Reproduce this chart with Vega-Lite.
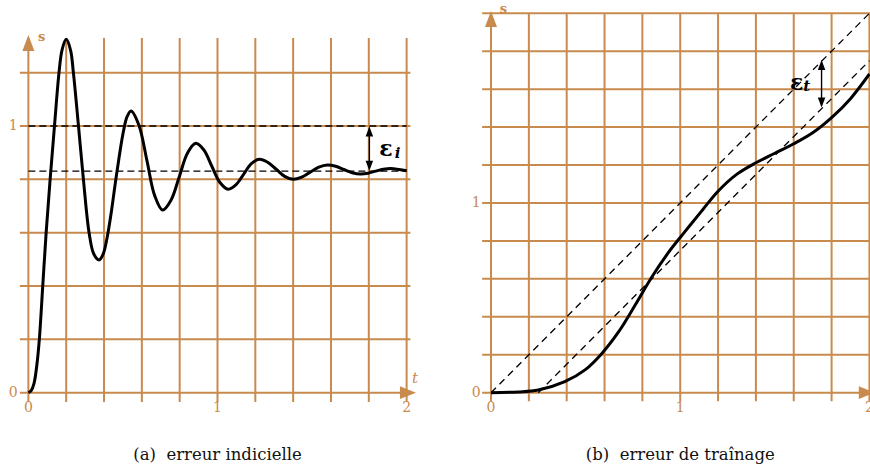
{
  "$schema": "https://vega.github.io/schema/vega-lite/v6.json",
  "background": "white",
  "padding": 0,
  "spacing": 0,
  "bounds": "flush",
  "config": {"view": {"stroke": null}, "text": {"font": "DejaVu Serif"}},
  "datasets": {
    "gV": [{"t":0},{"t":0.2},{"t":0.4},{"t":0.6},{"t":0.8},{"t":1},{"t":1.2},{"t":1.4},{"t":1.6},{"t":1.8},{"t":2}],
    "gAh": [{"s":0},{"s":0.2},{"s":0.4},{"s":0.6},{"s":0.8},{"s":1},{"s":1.2}],
    "gBh": [{"s":0},{"s":0.2},{"s":0.4},{"s":0.6},{"s":0.8},{"s":1},{"s":1.2},{"s":1.4},{"s":1.6},{"s":1.8},{"s":2}],
    "arrA": [{"t":0,"s":1.311,"dir":"up"},{"t":2.007,"s":0,"dir":"right"}],
    "arrB": [{"t":0,"s":1.97,"dir":"up"},{"t":1.986,"s":0,"dir":"right"}],
    "headA": [{"t":1.803,"s":0.979,"dir":"up"},{"t":1.803,"s":0.851,"dir":"down"}],
    "headB": [{"t":1.747,"s":1.727,"dir":"up"},{"t":1.747,"s":1.53,"dir":"down"}],
    "epsLineA": [{"t":1.803,"s":0.99},{"t":1.803,"s":0.84}],
    "epsLineB": [{"t":1.747,"s":1.74},{"t":1.747,"s":1.515}],
    "dashA": [{"t":0,"s":1,"g":"a"},{"t":2,"s":1,"g":"a"},{"t":0,"s":0.831,"g":"b"},{"t":2,"s":0.831,"g":"b"}],
    "dashB": [{"t":0,"s":0,"g":"a"},{"t":2,"s":2,"g":"a"},{"t":0.25,"s":0,"g":"b"},{"t":2,"s":1.75,"g":"b"}],
    "curveA": [
      {"t":0,"s":0},{"t":0.015,"s":0.008},{"t":0.03,"s":0.035},{"t":0.045,"s":0.105},{"t":0.058,"s":0.2},
      {"t":0.076,"s":0.4},{"t":0.094,"s":0.6},{"t":0.115,"s":0.8},{"t":0.138,"s":1.0},{"t":0.162,"s":1.2},
      {"t":0.178,"s":1.285},{"t":0.2,"s":1.325},{"t":0.223,"s":1.285},{"t":0.238,"s":1.2},{"t":0.265,"s":1.0},
      {"t":0.291,"s":0.8},{"t":0.321,"s":0.6},{"t":0.346,"s":0.52},{"t":0.374,"s":0.498},{"t":0.395,"s":0.519},
      {"t":0.416,"s":0.58},{"t":0.437,"s":0.67},{"t":0.458,"s":0.777},{"t":0.48,"s":0.884},{"t":0.501,"s":0.974},
      {"t":0.522,"s":1.035},{"t":0.543,"s":1.056},
      {"t":0.585,"s":1.002},{"t":0.627,"s":0.87},{"t":0.668,"s":0.739},{"t":0.71,"s":0.685},{"t":0.754,"s":0.722},
      {"t":0.798,"s":0.81},{"t":0.841,"s":0.898},{"t":0.885,"s":0.935},{"t":0.928,"s":0.91},{"t":0.97,"s":0.849},
      {"t":1.013,"s":0.788},{"t":1.056,"s":0.763},{"t":1.097,"s":0.779},{"t":1.138,"s":0.819},{"t":1.179,"s":0.859},
      {"t":1.22,"s":0.875},{"t":1.265,"s":0.864},{"t":1.31,"s":0.838},{"t":1.355,"s":0.811},{"t":1.4,"s":0.8},
      {"t":1.445,"s":0.808},{"t":1.49,"s":0.827},{"t":1.536,"s":0.846},{"t":1.581,"s":0.854},{"t":1.625,"s":0.849},
      {"t":1.668,"s":0.837},{"t":1.712,"s":0.825},{"t":1.756,"s":0.82},{"t":1.796,"s":0.823},{"t":1.837,"s":0.831},
      {"t":1.877,"s":0.838},{"t":1.917,"s":0.841},{"t":1.96,"s":0.837},{"t":2.0,"s":0.832}
    ],
    "curveB": [
      {"t":0,"s":0},{"t":0.145,"s":0.004},{"t":0.25,"s":0.014},{"t":0.39,"s":0.058},{"t":0.497,"s":0.12},
      {"t":0.586,"s":0.207},{"t":0.674,"s":0.32},{"t":0.762,"s":0.462},{"t":0.85,"s":0.61},{"t":0.94,"s":0.742},
      {"t":1.0,"s":0.818},{"t":1.05,"s":0.88},{"t":1.12,"s":0.966},{"t":1.2,"s":1.062},{"t":1.3,"s":1.152},
      {"t":1.4,"s":1.212},{"t":1.5,"s":1.262},{"t":1.6,"s":1.312},{"t":1.7,"s":1.37},{"t":1.8,"s":1.45},
      {"t":1.9,"s":1.55},{"t":2.0,"s":1.68}
    ],
    "ylabA": [{"t":-0.056,"s":0,"label":"0"},{"t":-0.056,"s":1,"label":"1"}],
    "xlabA": [{"t":0,"s":-0.058,"label":"0"},{"t":1,"s":-0.058,"label":"1"},{"t":2,"s":-0.058,"label":"2"}],
    "ylabB": [{"t":-0.055,"s":0,"label":"0"},{"t":-0.055,"s":1,"label":"1"}],
    "xlabB": [{"t":0,"s":-0.081,"label":"0"},{"t":1,"s":-0.081,"label":"1"},{"t":2,"s":-0.081,"label":"2"}],
    "sA": [{"t":0.07,"s":1.335,"label":"s"}],
    "tA": [{"t":2.044,"s":0.054,"label":"t"}],
    "sB": [{"t":0.065,"s":2.021,"label":"s"}],
    "epsA": [{"t":1.89,"s":0.914,"label":"ε"}],
    "subA": [{"t":1.952,"s":0.899,"label":"i"}],
    "epsB": [{"t":1.615,"s":1.635,"label":"ε"}],
    "subB": [{"t":1.668,"s":1.617,"label":"t"}],
    "capA": [{"t":1.0,"s":-0.2523,"label":"(a)\u00a0\u00a0erreur indicielle"}],
    "capB": [{"t":1.0,"s":-0.3548,"label":"(b)\u00a0\u00a0erreur de traînage"}]
  },
  "hconcat": [
    {
      "width": 435,
      "height": 464,
      "layer": [
        {"data": {"name": "gV"}, "mark": {"type": "rule", "color": "#c98a4e", "strokeWidth": 2},
         "encoding": {"x": {"field": "t", "type": "quantitative", "scale": {"domain": [-0.15, 2.15]}, "axis": null},
                      "y": {"datum": -0.035, "type": "quantitative", "scale": {"domain": [-0.2673, 1.4725]}, "axis": null},
                      "y2": {"datum": 1.33}}},
        {"data": {"name": "gAh"}, "mark": {"type": "rule", "color": "#c98a4e", "strokeWidth": 2},
         "encoding": {"y": {"field": "s", "type": "quantitative", "scale": {"domain": [-0.2673, 1.4725]}, "axis": null},
                      "x": {"datum": -0.045, "type": "quantitative", "scale": {"domain": [-0.15, 2.15]}, "axis": null},
                      "x2": {"datum": 2.02}}},
        {"data": {"name": "arrA"}, "mark": {"type": "point", "filled": true, "color": "#c98a4e", "opacity": 1, "size": 256, "strokeWidth": 0},
         "encoding": {"x": {"field": "t", "type": "quantitative", "scale": {"domain": [-0.15, 2.15]}, "axis": null},
                      "y": {"field": "s", "type": "quantitative", "scale": {"domain": [-0.2673, 1.4725]}, "axis": null},
                      "shape": {"field": "dir", "type": "nominal", "legend": null,
                                "scale": {"domain": ["up", "right", "down"], "range": ["M0,-1L0.75,1L-0.75,1Z", "M1,0L-1,0.8L-1,-0.8Z", "M0,1L0.75,-1L-0.75,-1Z"]}}}},
        {"data": {"name": "dashA"}, "mark": {"type": "line", "color": "black", "strokeWidth": 1.3, "strokeDash": [7, 4]},
         "encoding": {"x": {"field": "t", "type": "quantitative", "scale": {"domain": [-0.15, 2.15]}, "axis": null},
                      "y": {"field": "s", "type": "quantitative", "scale": {"domain": [-0.2673, 1.4725]}, "axis": null},
                      "detail": {"field": "g"}}},
        {"data": {"name": "curveA"}, "mark": {"type": "line", "color": "black", "strokeWidth": 3, "interpolate": "catmull-rom"},
         "encoding": {"x": {"field": "t", "type": "quantitative", "scale": {"domain": [-0.15, 2.15]}, "axis": null},
                      "y": {"field": "s", "type": "quantitative", "scale": {"domain": [-0.2673, 1.4725]}, "axis": null}}},
        {"data": {"name": "epsLineA"}, "mark": {"type": "line", "color": "black", "strokeWidth": 1.4},
         "encoding": {"x": {"field": "t", "type": "quantitative", "scale": {"domain": [-0.15, 2.15]}, "axis": null},
                      "y": {"field": "s", "type": "quantitative", "scale": {"domain": [-0.2673, 1.4725]}, "axis": null}}},
        {"data": {"name": "headA"}, "mark": {"type": "point", "filled": true, "color": "black", "opacity": 1, "size": 100, "strokeWidth": 0},
         "encoding": {"x": {"field": "t", "type": "quantitative", "scale": {"domain": [-0.15, 2.15]}, "axis": null},
                      "y": {"field": "s", "type": "quantitative", "scale": {"domain": [-0.2673, 1.4725]}, "axis": null},
                      "shape": {"field": "dir", "type": "nominal", "legend": null,
                                "scale": {"domain": ["up", "right", "down"], "range": ["M0,-1L0.75,1L-0.75,1Z", "M1,0L-1,0.8L-1,-0.8Z", "M0,1L0.75,-1L-0.75,-1Z"]}}}},
        {"data": {"name": "ylabA"}, "mark": {"type": "text", "color": "#c98a4e", "fontSize": 14, "align": "right", "baseline": "middle"},
         "encoding": {"x": {"field": "t", "type": "quantitative", "scale": {"domain": [-0.15, 2.15]}, "axis": null},
                      "y": {"field": "s", "type": "quantitative", "scale": {"domain": [-0.2673, 1.4725]}, "axis": null},
                      "text": {"field": "label"}}},
        {"data": {"name": "xlabA"}, "mark": {"type": "text", "color": "#c98a4e", "fontSize": 14, "align": "center", "baseline": "middle"},
         "encoding": {"x": {"field": "t", "type": "quantitative", "scale": {"domain": [-0.15, 2.15]}, "axis": null},
                      "y": {"field": "s", "type": "quantitative", "scale": {"domain": [-0.2673, 1.4725]}, "axis": null},
                      "text": {"field": "label"}}},
        {"data": {"name": "sA"}, "mark": {"type": "text", "color": "#c98a4e", "fontSize": 13, "fontWeight": "bold", "align": "center", "baseline": "middle"},
         "encoding": {"x": {"field": "t", "type": "quantitative", "scale": {"domain": [-0.15, 2.15]}, "axis": null},
                      "y": {"field": "s", "type": "quantitative", "scale": {"domain": [-0.2673, 1.4725]}, "axis": null},
                      "text": {"field": "label"}}},
        {"data": {"name": "tA"}, "mark": {"type": "text", "color": "#c98a4e", "fontSize": 15, "fontStyle": "italic", "align": "center", "baseline": "middle"},
         "encoding": {"x": {"field": "t", "type": "quantitative", "scale": {"domain": [-0.15, 2.15]}, "axis": null},
                      "y": {"field": "s", "type": "quantitative", "scale": {"domain": [-0.2673, 1.4725]}, "axis": null},
                      "text": {"field": "label"}}},
        {"data": {"name": "epsA"}, "mark": {"type": "text", "color": "black", "fontSize": 22, "fontWeight": "bold", "align": "center", "baseline": "middle"},
         "encoding": {"x": {"field": "t", "type": "quantitative", "scale": {"domain": [-0.15, 2.15]}, "axis": null},
                      "y": {"field": "s", "type": "quantitative", "scale": {"domain": [-0.2673, 1.4725]}, "axis": null},
                      "text": {"field": "label"}}},
        {"data": {"name": "subA"}, "mark": {"type": "text", "color": "black", "fontSize": 15, "fontStyle": "italic", "fontWeight": "bold", "align": "center", "baseline": "middle"},
         "encoding": {"x": {"field": "t", "type": "quantitative", "scale": {"domain": [-0.15, 2.15]}, "axis": null},
                      "y": {"field": "s", "type": "quantitative", "scale": {"domain": [-0.2673, 1.4725]}, "axis": null},
                      "text": {"field": "label"}}},
        {"data": {"name": "capA"}, "mark": {"type": "text", "color": "#111111", "fontSize": 16.5, "align": "center", "baseline": "alphabetic"},
         "encoding": {"x": {"field": "t", "type": "quantitative", "scale": {"domain": [-0.15, 2.15]}, "axis": null},
                      "y": {"field": "s", "type": "quantitative", "scale": {"domain": [-0.2673, 1.4725]}, "axis": null},
                      "text": {"field": "label"}}}
      ]
    },
    {
      "width": 435,
      "height": 464,
      "layer": [
        {"data": {"name": "gV"}, "mark": {"type": "rule", "color": "#c98a4e", "strokeWidth": 2},
         "encoding": {"x": {"field": "t", "type": "quantitative", "scale": {"domain": [-0.296, 2.003]}, "axis": null},
                      "y": {"datum": -0.045, "type": "quantitative", "scale": {"domain": [-0.376, 2.07]}, "axis": null},
                      "y2": {"datum": 2.0}}},
        {"data": {"name": "gBh"}, "mark": {"type": "rule", "color": "#c98a4e", "strokeWidth": 2},
         "encoding": {"y": {"field": "s", "type": "quantitative", "scale": {"domain": [-0.376, 2.07]}, "axis": null},
                      "x": {"datum": -0.047, "type": "quantitative", "scale": {"domain": [-0.296, 2.003]}, "axis": null},
                      "x2": {"datum": 2.01}}},
        {"data": {"name": "arrB"}, "mark": {"type": "point", "filled": true, "color": "#c98a4e", "opacity": 1, "size": 256, "strokeWidth": 0},
         "encoding": {"x": {"field": "t", "type": "quantitative", "scale": {"domain": [-0.296, 2.003]}, "axis": null},
                      "y": {"field": "s", "type": "quantitative", "scale": {"domain": [-0.376, 2.07]}, "axis": null},
                      "shape": {"field": "dir", "type": "nominal", "legend": null,
                                "scale": {"domain": ["up", "right", "down"], "range": ["M0,-1L0.75,1L-0.75,1Z", "M1,0L-1,0.8L-1,-0.8Z", "M0,1L0.75,-1L-0.75,-1Z"]}}}},
        {"data": {"name": "dashB"}, "mark": {"type": "line", "color": "black", "strokeWidth": 1.3, "strokeDash": [7, 5]},
         "encoding": {"x": {"field": "t", "type": "quantitative", "scale": {"domain": [-0.296, 2.003]}, "axis": null},
                      "y": {"field": "s", "type": "quantitative", "scale": {"domain": [-0.376, 2.07]}, "axis": null},
                      "detail": {"field": "g"}}},
        {"data": {"name": "curveB"}, "mark": {"type": "line", "color": "black", "strokeWidth": 3, "interpolate": "catmull-rom"},
         "encoding": {"x": {"field": "t", "type": "quantitative", "scale": {"domain": [-0.296, 2.003]}, "axis": null},
                      "y": {"field": "s", "type": "quantitative", "scale": {"domain": [-0.376, 2.07]}, "axis": null}}},
        {"data": {"name": "epsLineB"}, "mark": {"type": "line", "color": "black", "strokeWidth": 1.4},
         "encoding": {"x": {"field": "t", "type": "quantitative", "scale": {"domain": [-0.296, 2.003]}, "axis": null},
                      "y": {"field": "s", "type": "quantitative", "scale": {"domain": [-0.376, 2.07]}, "axis": null}}},
        {"data": {"name": "headB"}, "mark": {"type": "point", "filled": true, "color": "black", "opacity": 1, "size": 100, "strokeWidth": 0},
         "encoding": {"x": {"field": "t", "type": "quantitative", "scale": {"domain": [-0.296, 2.003]}, "axis": null},
                      "y": {"field": "s", "type": "quantitative", "scale": {"domain": [-0.376, 2.07]}, "axis": null},
                      "shape": {"field": "dir", "type": "nominal", "legend": null,
                                "scale": {"domain": ["up", "right", "down"], "range": ["M0,-1L0.75,1L-0.75,1Z", "M1,0L-1,0.8L-1,-0.8Z", "M0,1L0.75,-1L-0.75,-1Z"]}}}},
        {"data": {"name": "ylabB"}, "mark": {"type": "text", "color": "#c98a4e", "fontSize": 14, "align": "right", "baseline": "middle"},
         "encoding": {"x": {"field": "t", "type": "quantitative", "scale": {"domain": [-0.296, 2.003]}, "axis": null},
                      "y": {"field": "s", "type": "quantitative", "scale": {"domain": [-0.376, 2.07]}, "axis": null},
                      "text": {"field": "label"}}},
        {"data": {"name": "xlabB"}, "mark": {"type": "text", "color": "#c98a4e", "fontSize": 14, "align": "center", "baseline": "middle"},
         "encoding": {"x": {"field": "t", "type": "quantitative", "scale": {"domain": [-0.296, 2.003]}, "axis": null},
                      "y": {"field": "s", "type": "quantitative", "scale": {"domain": [-0.376, 2.07]}, "axis": null},
                      "text": {"field": "label"}}},
        {"data": {"name": "sB"}, "mark": {"type": "text", "color": "#c98a4e", "fontSize": 13, "fontWeight": "bold", "align": "center", "baseline": "middle"},
         "encoding": {"x": {"field": "t", "type": "quantitative", "scale": {"domain": [-0.296, 2.003]}, "axis": null},
                      "y": {"field": "s", "type": "quantitative", "scale": {"domain": [-0.376, 2.07]}, "axis": null},
                      "text": {"field": "label"}}},
        {"data": {"name": "epsB"}, "mark": {"type": "text", "color": "black", "fontSize": 22, "fontWeight": "bold", "align": "center", "baseline": "middle"},
         "encoding": {"x": {"field": "t", "type": "quantitative", "scale": {"domain": [-0.296, 2.003]}, "axis": null},
                      "y": {"field": "s", "type": "quantitative", "scale": {"domain": [-0.376, 2.07]}, "axis": null},
                      "text": {"field": "label"}}},
        {"data": {"name": "subB"}, "mark": {"type": "text", "color": "black", "fontSize": 15, "fontStyle": "italic", "fontWeight": "bold", "align": "center", "baseline": "middle"},
         "encoding": {"x": {"field": "t", "type": "quantitative", "scale": {"domain": [-0.296, 2.003]}, "axis": null},
                      "y": {"field": "s", "type": "quantitative", "scale": {"domain": [-0.376, 2.07]}, "axis": null},
                      "text": {"field": "label"}}},
        {"data": {"name": "capB"}, "mark": {"type": "text", "color": "#111111", "fontSize": 16.5, "align": "center", "baseline": "alphabetic"},
         "encoding": {"x": {"field": "t", "type": "quantitative", "scale": {"domain": [-0.296, 2.003]}, "axis": null},
                      "y": {"field": "s", "type": "quantitative", "scale": {"domain": [-0.376, 2.07]}, "axis": null},
                      "text": {"field": "label"}}}
      ]
    }
  ]
}
